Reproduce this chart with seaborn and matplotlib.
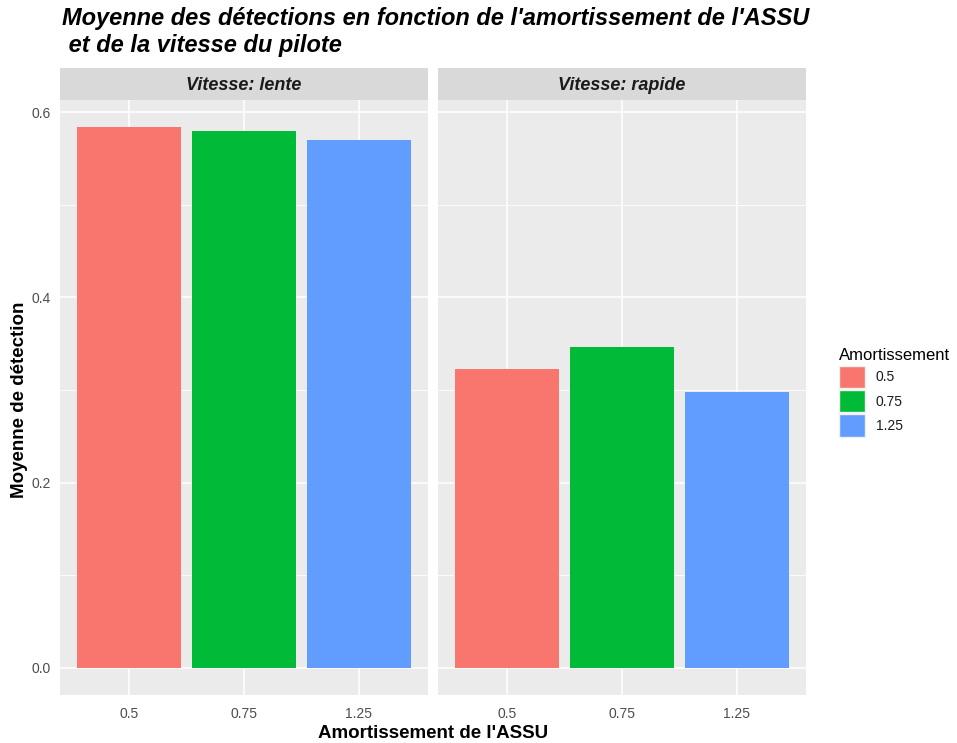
import pandas as pd
import seaborn as sns
import matplotlib.pyplot as plt
from matplotlib.patches import Patch

sns.set_theme(style="white")
plt.rcParams['font.family'] = ['Liberation Sans', 'DejaVu Sans']

# data
amort = ["0.5", "0.75", "1.25"]
vitesses = ["lente", "rapide"]
moy_lente = [0.584, 0.580, 0.570]
moy_rapide = [0.323, 0.346, 0.298]

df = pd.DataFrame({
    "Amortissement": amort * 2,
    "Vitesse": ["lente"] * 3 + ["rapide"] * 3,
    "moyenne": moy_lente + moy_rapide,
})

colors = ["#F8766D", "#00BA38", "#619CFF"]
pal = dict(zip(amort, colors))

W, H = 957, 743
fig = plt.figure(figsize=(W / 100, H / 100), dpi=100)

panel_x = [60, 438]
panel_w = 368
top, bottom = 100, 695
strip_h = 32

ymax = max(df["moyenne"]) * 1.05
ymin = -max(df["moyenne"]) * 0.05

for i, v in enumerate(vitesses):
    ax = fig.add_axes([panel_x[i] / W, 1 - bottom / H, panel_w / W, (bottom - top) / H])
    ax.set_facecolor("#EBEBEB")
    sub = df[df["Vitesse"] == v]
    sns.barplot(data=sub, x="Amortissement", y="moyenne", hue="Amortissement",
                order=amort, hue_order=amort, palette=pal, width=0.9,
                saturation=1, legend=False, ax=ax, zorder=3, linewidth=0)
    ax.set_xlim(-0.6, 2.6)
    ax.set_ylim(ymin, ymax)
    # grid like ggplot
    for y in [0.1, 0.3, 0.5]:
        ax.axhline(y, color="white", lw=0.6, zorder=1)
    for y in [0.0, 0.2, 0.4, 0.6]:
        ax.axhline(y, color="white", lw=1.1, zorder=1)
    for x in range(3):
        ax.axvline(x, color="white", lw=1.1, zorder=1)
    for s in ax.spines.values():
        s.set_visible(False)
    ax.set_xlabel("")
    ax.set_ylabel("")
    ax.set_xticks(range(3))
    ax.set_xticklabels(amort, color="#4D4D4D", fontsize=10)
    ax.tick_params(axis="x", length=3.5, width=0.8, color="#333333", pad=5)
    if i == 0:
        ax.set_yticks([0.0, 0.2, 0.4, 0.6])
        ax.set_yticklabels(["0.0", "0.2", "0.4", "0.6"], color="#4D4D4D", fontsize=10)
        ax.tick_params(axis="y", length=3.5, width=0.8, color="#333333", pad=3)
    else:
        ax.set_yticks([])
    # facet strip
    sax = fig.add_axes([panel_x[i] / W, 1 - top / H, panel_w / W, strip_h / H])
    sax.set_facecolor("#D9D9D9")
    sax.set_xticks([])
    sax.set_yticks([])
    for s in sax.spines.values():
        s.set_visible(False)
    sax.text(0.5, 0.45, f"Vitesse: {v}", ha="center", va="center",
             fontsize=13, fontweight="bold", fontstyle="italic", color="#1A1A1A")

fig.text(62 / W, 1 - 7 / H,
         "Moyenne des détections en fonction de l'amortissement de l'ASSU\n et de la vitesse du pilote",
         ha="left", va="top", fontsize=17, fontweight="bold", fontstyle="italic",
         linespacing=1.2, color="black")
fig.text(20 / W, 1 - 400 / H, "Moyenne de détection", rotation=90, ha="center", va="center",
         fontsize=13.5, fontweight="bold", color="black")
fig.text(433 / W, 1 - 733 / H, "Amortissement de l'ASSU", ha="center", va="center",
         fontsize=13.5, fontweight="bold", color="black")

handles = [Patch(facecolor=c, edgecolor="#F0F0F0", label=a) for a, c in zip(amort, colors)]
leg = fig.legend(handles=handles, title="Amortissement", loc="upper left",
                 bbox_to_anchor=(826 / W, 1 - 336 / H), frameon=False, fontsize=10,
                 title_fontsize=12, handlelength=1.9, handleheight=2.1,
                 handletextpad=0.8, labelspacing=0.15, alignment="left")
leg.get_title().set_color("black")
for t in leg.get_texts():
    t.set_color("#1A1A1A")

plt.savefig("out.png", dpi=100)
